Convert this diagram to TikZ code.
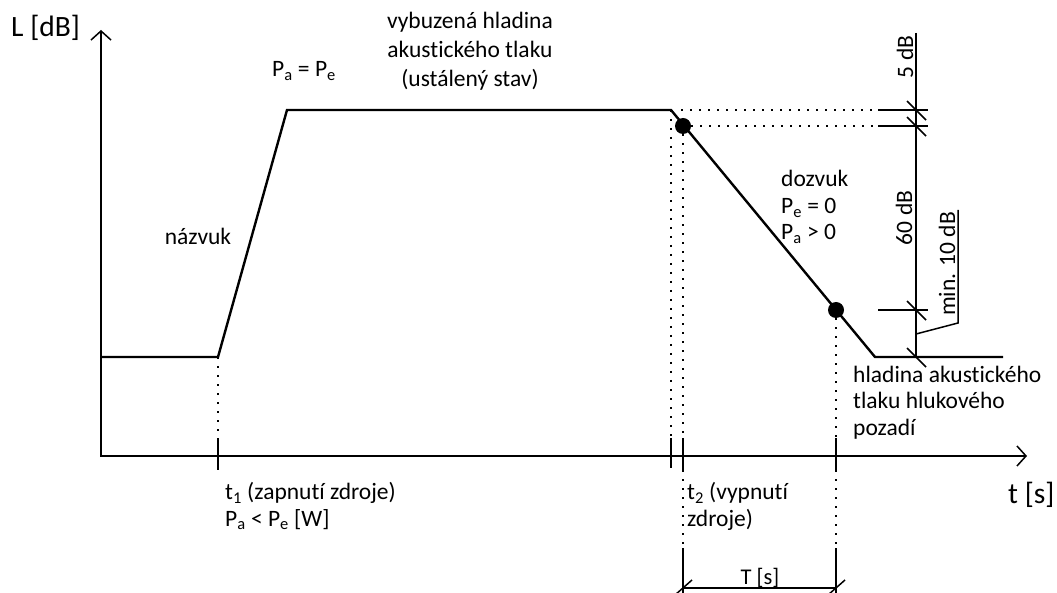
\documentclass[tikz,border=0pt]{standalone}
\usepackage{fontspec}
\setmainfont{Carlito}[Ligatures=NoCommon]
\usetikzlibrary{arrows.meta}
\newcommand{\lowsub}[1]{\textsubscript{#1}}
\begin{document}
\begin{tikzpicture}[x=1pt,y=-1pt,
  >={Straight Barb[length=9pt,width=20pt,line width=1.5pt]},
  every node/.style={font=\fontsize{23.5}{26.5}\selectfont, inner sep=0pt},
  bigtext/.style={font=\fontsize{29.5}{32}\selectfont},
  smalltext/.style={font=\fontsize{22.5}{26}\selectfont},
  curve/.style={line width=2.4pt, line join=miter},
  axisline/.style={line width=1.8pt},
  dimline/.style={line width=1.5pt},
  dotline/.style={line width=1.6pt, dash pattern=on 1.6pt off 7.4pt},
  tickline/.style={line width=1.5pt},
  blob/.style={circle, fill=black, minimum size=16pt}]
\useasboundingbox (0,0) rectangle (1057,593);
% key points
\coordinate (ytop) at (101,30);
\coordinate (O) at (101,456);
\coordinate (xend) at (1027,456);
\coordinate (b0) at (101,357);
\coordinate (b1) at (218,357);
\coordinate (p0) at (287,110);
\coordinate (p1) at (671,110);
\coordinate (d2) at (875,357);
\coordinate (b2) at (1003,357);
\node[blob] (dotA) at (683,126) {};
\node[blob] (dotB) at (836,310) {};
% axes
\draw[axisline, <->] (ytop) -- (O) -- (xend);
% curve
\draw[curve] (b0) -- (b1) -- (p0) -- (p1) -- (d2) -- (b2);
% t1
\coordinate (t1a) at (218,438);
\coordinate (t1b) at (218,470);
\draw[dotline] (b1) -- (t1a);
\draw[tickline] (t1a) -- (t1b);
% plateau end
\coordinate (t2a) at (671,438);
\coordinate (t2b) at (671,468);
\draw[dotline] (p1) -- (t2a);
\draw[tickline] (t2a) -- (t2b);
% t2
\coordinate (t3a) at (683,438);
\coordinate (t3b) at (683,470);
\coordinate (t3c) at (683,548);
\coordinate (t3d) at (683,593);
\draw[dotline] (dotA) -- (t3a);
\draw[tickline] (t3a) -- (t3b);
\draw[dotline] (t3b) -- (t3c);
\draw[tickline] (t3c) -- (t3d);
% end of T
\coordinate (t4a) at (836,438);
\coordinate (t4b) at (836,470);
\coordinate (t4c) at (836,548);
\coordinate (t4d) at (836,593);
\draw[dotline] (dotB) -- (t4a);
\draw[tickline] (t4a) -- (t4b);
\draw[dotline] (t4b) -- (t4c);
\draw[tickline] (t4c) -- (t4d);
% T dimension
\coordinate (Ta) at (683,588);
\coordinate (Tb) at (836,588);
\draw[dimline] (Ta) -- (Tb);
\draw[tickline] ([shift={(-8,7)}]Ta) -- ([shift={(9,-8)}]Ta);
\draw[tickline] ([shift={(-8,7)}]Tb) -- ([shift={(9,-8)}]Tb);
% horizontal reference lines
\coordinate (h1a) at (681,110);
\coordinate (h1b) at (878,110);
\coordinate (h1c) at (928,110);
\coordinate (h2b) at (878,126);
\coordinate (h2c) at (928,126);
\coordinate (h3b) at (878,310);
\coordinate (h3c) at (928,310);
\draw[dotline] (h1a) -- (h1b);
\draw[dimline] (h1b) -- (h1c);
\draw[dotline] (dotA) -- (h2b);
\draw[dimline] (h2b) -- (h2c);
\draw[dimline] (h3b) -- (h3c);
% vertical dimension
\coordinate (vtop) at (916,33);
\coordinate (vbot) at (916,357);
\draw[dimline] (vtop) -- (vbot);
\foreach \yy in {110,126,310,357}
  \draw[tickline] (916-9,\yy-9) -- (916+10,\yy+10);
% leader for min. 10 dB
\coordinate (la) at (916,334);
\coordinate (lb) at (958,323);
\coordinate (lc) at (958,210);
\draw[dimline] (la) -- (lb) -- (lc);
% texts (multi-line nodes anchored at the baseline of their last line)
\node[bigtext, anchor=base west] (Ly) at (11,37) {L [dB]};
\node[bigtext, anchor=base west] (tx) at (1008,503) {t [s]};
\node[anchor=base] (PaPe) at (304,77) {P\lowsub{a} = P\lowsub{e}};
\node[align=center, anchor=base, font=\fontsize{23.5}{29}\selectfont] (vyb) at (470,87) {vybuzená hladina\\akustického tlaku\\(ustálený stav)};
\node[anchor=base] (nazvuk) at (198,245) {názvuk};
\node[align=left, anchor=base west] (dozvuk) at (781,240) {dozvuk\\P\lowsub{e} = 0\\P\lowsub{a} > 0};
\node[align=left, anchor=base west] (hlad) at (853,435) {hladina akustického\\tlaku hlukového\\pozadí};
\node[align=left, anchor=base west] (t1) at (225,526) {t\lowsub{1} (zapnutí zdroje)\\P\lowsub{a} < P\lowsub{e} [W]};
\node[align=left, anchor=base west] (t2) at (687,526) {t\lowsub{2} (vypnutí\\zdroje)};
\node[smalltext, anchor=base] (TT) at (760,584) {T [s]};
\node[rotate=90] (db5) at (905,57) {5 dB};
\node[rotate=90] (db60) at (904,218) {60 dB};
\node[rotate=90] (db10) at (947,264) {min. 10 dB};
\end{tikzpicture}
\end{document}
